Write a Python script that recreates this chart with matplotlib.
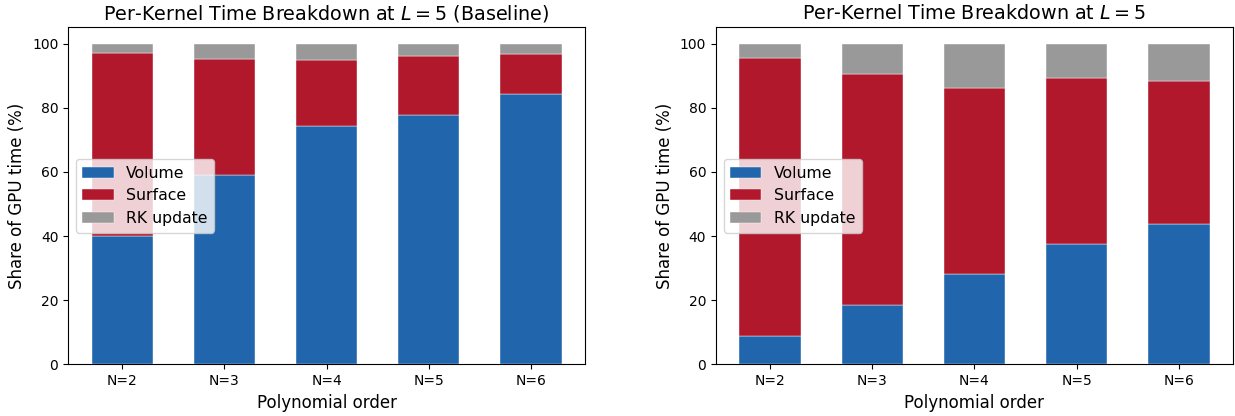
import numpy as np
import matplotlib.pyplot as plt

orders = ["N=2", "N=3", "N=4", "N=5", "N=6"]

# baseline (left panel), shares in %
base_volume = [40.1, 59.0, 74.2, 77.8, 84.4]
base_surface = [57.0, 36.3, 20.8, 18.3, 12.3]
base_rk = [2.9, 4.7, 5.0, 3.9, 3.3]

# optimised (right panel)
opt_volume = [8.7, 18.5, 28.3, 37.4, 43.9]
opt_surface = [86.8, 72.1, 57.8, 51.8, 44.5]
opt_rk = [4.5, 9.4, 13.9, 10.8, 11.6]

colors = {"Volume": "#2166ac", "Surface": "#b2182b", "RK update": "#999999"}


def stacked(ax, vol, surf, rk, title):
    x = np.arange(len(orders))
    vol = np.array(vol)
    surf = np.array(surf)
    rk = np.array(rk)
    ax.bar(x, vol, 0.6, color=colors["Volume"], label="Volume", edgecolor="white", linewidth=0.3)
    ax.bar(x, surf, 0.6, bottom=vol, color=colors["Surface"], label="Surface", edgecolor="white", linewidth=0.3)
    ax.bar(x, rk, 0.6, bottom=vol + surf, color=colors["RK update"], label="RK update", edgecolor="white", linewidth=0.3)
    ax.set_xticks(x)
    ax.set_xticklabels(orders, fontsize=10)
    ax.tick_params(axis="y", labelsize=10)
    ax.set_ylim(0, 105)
    ax.set_xlabel("Polynomial order", fontsize=12)
    ax.set_ylabel("Share of GPU time (%)", fontsize=12)
    ax.set_title(title, fontsize=13.8)
    ax.legend(loc="center left", fontsize=11.3)


fig, (ax1, ax2) = plt.subplots(1, 2, figsize=(12.35, 4.16), dpi=100)
fig.subplots_adjust(left=0.0551, right=0.9984, bottom=0.124, top=0.934, wspace=0.253)

stacked(ax1, base_volume, base_surface, base_rk, r"Per-Kernel Time Breakdown at $L = 5$ (Baseline)")
stacked(ax2, opt_volume, opt_surface, opt_rk, r"Per-Kernel Time Breakdown at $L = 5$")

plt.savefig("out.png", dpi=100)
